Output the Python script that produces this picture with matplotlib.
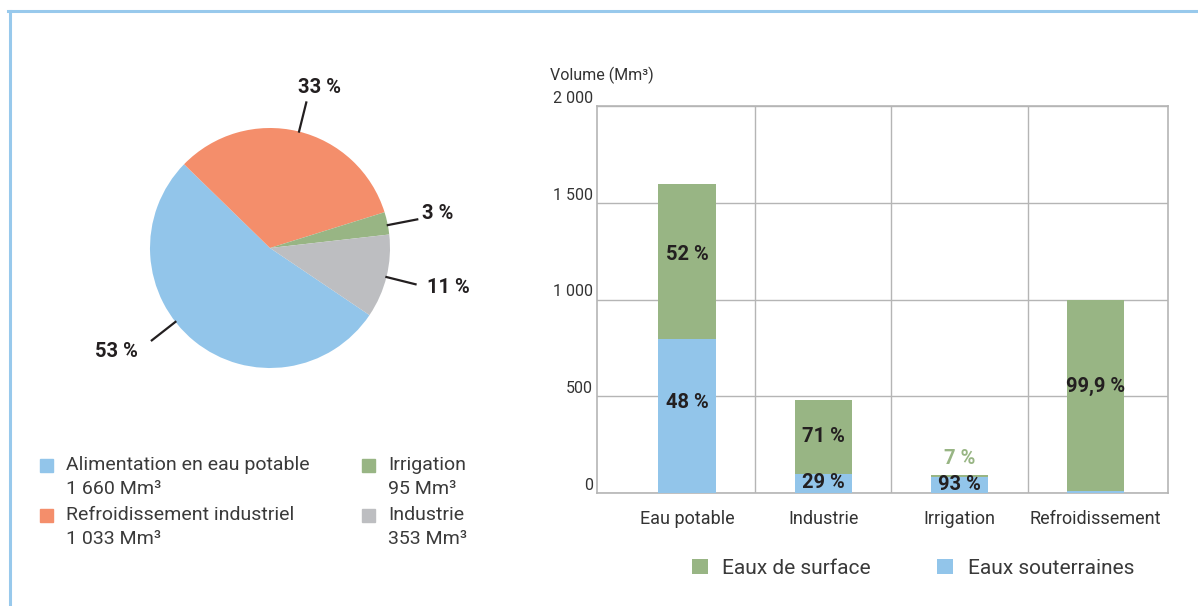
import numpy as np
import matplotlib.pyplot as plt
from matplotlib.lines import Line2D
from matplotlib.patches import Rectangle

plt.rcParams['font.family'] = ['Roboto', 'DejaVu Sans']

# pie data
usages = ['Alimentation en eau potable', 'Refroidissement industriel', 'Irrigation', 'Industrie']
volumes = [1660, 1033, 95, 353]
volume_labels = ['1 660 Mm³', '1 033 Mm³', '95 Mm³', '353 Mm³']
pie_pcts = ['53 %', '33 %', '3 %', '11 %']

# bar data
categories = ['Eau potable', 'Industrie', 'Irrigation', 'Refroidissement']
souterraines = [796, 98, 83, 8]
surface = [801, 383, 8, 990]
pct_sout = ['48 %', '29 %', '93 %', '']
pct_surf = ['52 %', '71 %', '7 %', '99,9 %']

blue = '#92C5EA'
orange = '#F48E6B'
green = '#98B584'
grey = '#BDBEC1'
txt = '#231F20'
gridc = '#B5B5B5'

W, H = 1198, 606
fig = plt.figure(figsize=(W / 100, H / 100), dpi=100)

# cadre bleu clair (haut + gauche)
fig.add_artist(Line2D([8 / W, 1], [1 - 10.5 / H, 1 - 10.5 / H], color='#98C9EC', lw=2.2))
fig.add_artist(Line2D([9.5 / W, 9.5 / W], [0, 1 - 10.5 / H], color='#98C9EC', lw=2.2))

# ---- camembert ----
cx, cy, R = 270, 248, 118
half = 150
axp = fig.add_axes([(cx - half) / W, 1 - (cy + half) / H, 2 * half / W, 2 * half / H])
lim = half / R
axp.set_xlim(-lim, lim)
axp.set_ylim(-lim, lim)
axp.set_aspect('equal')
axp.axis('off')
axp.pie(volumes, colors=[blue, orange, green, grey], startangle=-34, counterclock=False,
        radius=1, wedgeprops=dict(linewidth=0))

# traits et étiquettes
line_angles = [218, 76, 11, -14]
text_pos = [(-1.10, -0.86, 'right'), (0.41, 1.34, 'center'), (1.27, 0.29, 'left'), (1.31, -0.33, 'left')]
for lab, a, (tx, ty, ha) in zip(pie_pcts, line_angles, text_pos):
    t = np.deg2rad(a)
    axp.plot([np.cos(t) * 1.0, np.cos(t) * 1.25], [np.sin(t) * 1.0, np.sin(t) * 1.25],
             color=txt, lw=1.6, clip_on=False)
    axp.text(tx, ty, lab, ha=ha, va='center', fontsize=14.5, fontweight='bold', color=txt)

# légende du camembert
leg_cols = [blue, orange, green, grey]
leg_xy = [(40, 465), (40, 515), (362, 465), (362, 515)]
for name, vl, c, (lx, ly) in zip(usages, volume_labels, leg_cols, leg_xy):
    fig.add_artist(Rectangle((lx / W, 1 - (ly + 7) / H), 13 / W, 13 / H, color=c,
                             transform=fig.transFigure))
    fig.text((lx + 26) / W, 1 - ly / H, name, fontsize=14, color='#3A3A3A', va='center')
    fig.text((lx + 26) / W, 1 - (ly + 24) / H, vl, fontsize=14, color='#3A3A3A', va='center')

# ---- barres empilées ----
axb = fig.add_axes([597 / W, 1 - 493 / H, (1168 - 597) / W, (493 - 106) / H])
x = np.arange(len(categories))
bw = 0.42
axb.bar(x, souterraines, bw, color=blue, label='Eaux souterraines', zorder=3)
axb.bar(x, surface, bw, bottom=souterraines, color=green, label='Eaux de surface', zorder=3)
axb.set_xlim(-0.66, 3.53)
axb.set_ylim(0, 2000)
axb.set_yticks([0, 500, 1000, 1500, 2000])
axb.set_yticklabels(['0', '500', '1 000', '1 500', '2 000'])
for lb in axb.get_yticklabels():
    lb.set_va('bottom')
axb.tick_params(axis='y', length=0, pad=3, labelsize=11.5, labelcolor='#333333')
axb.set_xticks(x)
axb.set_xticklabels(categories)
axb.tick_params(axis='x', length=0, pad=12, labelsize=13, labelcolor='#333333')
axb.yaxis.grid(True, color=gridc, lw=1)
for xv in [0.5, 1.5, 2.5]:
    axb.axvline(xv, color=gridc, lw=1, zorder=1)
for s in axb.spines.values():
    s.set_color(gridc)
    s.set_linewidth(1.2)
axb.set_axisbelow(True)

# pourcentages dans les barres
lab_kw = dict(ha='center', va='center', fontsize=14.5, fontweight='bold', zorder=4)
for i in range(len(categories)):
    if pct_sout[i]:
        yb = souterraines[i] / 2 if souterraines[i] > 150 else souterraines[i] / 2 + 5
        if i == 0:
            yb += 70
        axb.text(x[i], yb, pct_sout[i], color=txt, **lab_kw)
    tot = souterraines[i] + surface[i]
    if surface[i] > 50:
        ys = souterraines[i] + surface[i] / 2
        if i == 0:
            ys += 35
        if i == 3:
            ys = 550
        axb.text(x[i], ys, pct_surf[i], color=txt, **lab_kw)
    else:
        axb.text(x[i], tot + 85, pct_surf[i], color=green, **lab_kw)

fig.text(550 / W, 1 - 75 / H, 'Volume (Mm³)', fontsize=11.5, color='#333333', va='center')

h, l = axb.get_legend_handles_labels()
fig.legend(h[::-1], l[::-1], loc='center', bbox_to_anchor=(913 / W, 1 - 568 / H), ncol=2,
           frameon=False, fontsize=15, handlelength=0.75, handleheight=0.75,
           handletextpad=0.7, columnspacing=3.2, labelcolor='#3A3A3A')

fig.savefig('out.png', dpi=100)
